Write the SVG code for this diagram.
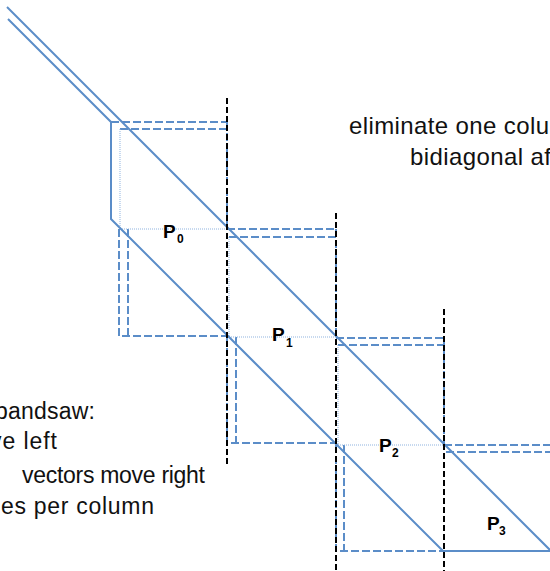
<svg xmlns="http://www.w3.org/2000/svg" width="550" height="571" viewBox="0 0 550 571">
<style>
.solid{fill:none;stroke:#5b8dc8;stroke-width:2}
.dash{fill:none;stroke:#5b8dc8;stroke-width:2;stroke-dasharray:8 3}
.dot{fill:none;stroke:#8fb3df;stroke-width:1;stroke-dasharray:1 1}
.div{fill:none;stroke:#000;stroke-width:2;stroke-dasharray:6 3}
.lbl{font-family:"Liberation Sans",Arial,sans-serif;font-weight:bold;font-size:19px;fill:#000}
.sub{font-size:12px}
.txt{font-family:"Liberation Sans",Arial,sans-serif;font-size:23px;fill:#111}
.big{font-size:24px}
</style>
<rect width="550" height="571" fill="#fff"/>
<g id="P0">
<path class="dash" d="M111,122 H227 M120,129 H227 M227,122 V229 M119,229 V336 H227 M128,229 V336"/>
<path class="dot" d="M120,129 V229 H227"/>
<text class="lbl" x="163" y="238">P<tspan class="sub" x="177" y="243">0</tspan></text>
</g>
<g id="P1">
<path class="dash" d="M227,229 H336 M229,237 H336 M336,229 V337 M227,337 V443 H336 M236,337 V443"/>
<path class="dot" d="M229,237 V337 H336"/>
<text class="lbl" x="272" y="341">P<tspan class="sub" x="286" y="347">1</tspan></text>
</g>
<g id="P2">
<path class="dash" d="M336,338 H444 M338,345 H444 M444,338 V445 M336,445 V551 H444 M344,445 V551"/>
<path class="dot" d="M338,345 V445 H444"/>
<text class="lbl" x="379" y="452">P<tspan class="sub" x="392" y="457">2</tspan></text>
</g>
<g id="P3">
<path class="dash" d="M444,445 H550 M446,452 H550"/>
<text class="lbl" x="487" y="530">P<tspan class="sub" x="499" y="535">3</tspan></text>
</g>
<g id="connectors">
<path class="solid" d="M7,7 L550,550"/>
<path class="solid" d="M8,19 L111,122 V219 L443,551 H550"/>
<path class="div" d="M227,98 V467 M336,213 V571 M444,309 V571"/>
</g>
<g id="notes">
<text class="txt big" x="349" y="134" textLength="200" lengthAdjust="spacing">eliminate one colu</text>
<text class="txt big" x="410" y="165" textLength="141" lengthAdjust="spacing">bidiagonal af</text>
<text class="txt" x="-5" y="419" textLength="100" lengthAdjust="spacing">bandsaw:</text>
<text class="txt" x="-10" y="449" textLength="67" lengthAdjust="spacing">ve left</text>
<text class="txt" x="22" y="483" textLength="183" lengthAdjust="spacing">vectors move right</text>
<text class="txt" x="1" y="514" textLength="153" lengthAdjust="spacing">es per column</text>
</g>
</svg>
